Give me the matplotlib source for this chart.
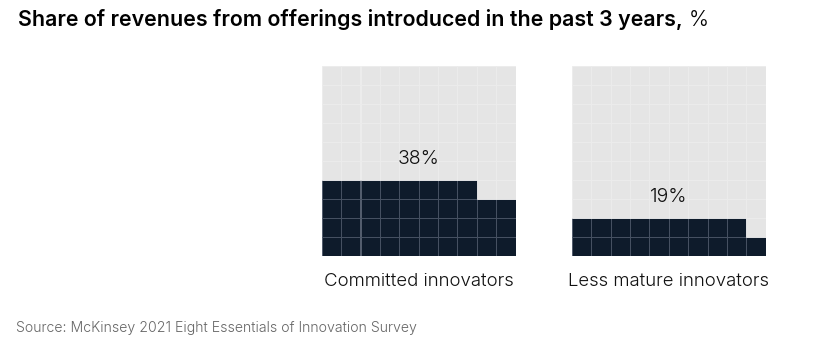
import numpy as np
import matplotlib
matplotlib.use('Agg')
import matplotlib.pyplot as plt
from matplotlib.patches import Rectangle

plt.rcParams['font.family'] = ['Inter', 'DejaVu Sans']

groups = ['Committed innovators', 'Less mature innovators']
shares = [38, 19]
title = 'Share of revenues from offerings introduced in the past 3 years,'
source = 'Source: McKinsey 2021 Eight Essentials of Innovation Survey'

dark = '#0e1b2b'
light = '#e5e5e5'

fig = plt.figure(figsize=(8.19, 3.5), dpi=100)
lefts = [321.7 / 819, 571.7 / 819]

for left, name, share in zip(lefts, groups, shares):
    ax = fig.add_axes([left, 1 - 256 / 350, 194 / 819, 190 / 350])
    ax.set_xlim(0, 10)
    ax.set_ylim(0, 10)
    ax.axis('off')
    for k in range(100):
        row = k // 10
        col = k % 10
        if k < share:
            fc, ec = dark, '#4a5566'
        else:
            fc, ec = light, '#ececec'
        ax.add_patch(Rectangle((col, row), 1, 1, facecolor=fc, edgecolor=ec, linewidth=0.6))
    top = int(np.ceil(share / 10))
    ax.text(5, top + 1.1, '%d%%' % share, ha='center', va='center', fontsize=14,
            fontweight=300, color='#111111')
    ax.text(5, -1.35, name, ha='center', va='center', fontsize=13.4, fontweight=300,
            color='#111111', clip_on=False)

t = fig.text(18 / 819, 1 - 20 / 350, title, ha='left', va='center', fontsize=15.4,
             fontweight='semibold', color='#000000')
fig.canvas.draw()
bb = t.get_window_extent()
fig.text(bb.x1 / 819 + 0.007, 1 - 20 / 350, '%', ha='left', va='center', fontsize=15.4,
         fontweight=300, color='#000000')
fig.text(16 / 819, 1 - 328 / 350, source, ha='left', va='center', fontsize=10.2,
         fontweight=300, color='#666666')

fig.savefig('out.png', dpi=100)
